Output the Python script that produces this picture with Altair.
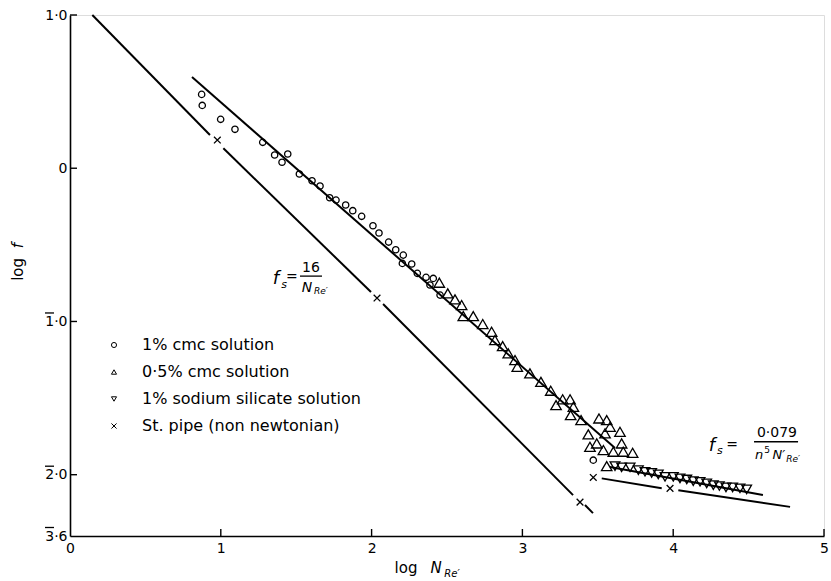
import altair as alt
import pandas as pd

# ---------------- data (log N_Re', log f) ----------------
cmc1_x = [0.873, 0.877, 0.999, 1.094, 1.278, 1.357, 1.406, 1.444, 1.521, 1.605, 1.658,
          1.722, 1.764, 1.828, 1.875, 1.934, 2.009, 2.049, 2.113, 2.160, 2.210, 2.204,
          2.266, 2.303, 2.361, 2.409, 2.387, 2.454, 3.470]
cmc1_y = [0.482, 0.410, 0.319, 0.254, 0.169, 0.086, 0.039, 0.093, -0.038, -0.082, -0.116,
          -0.193, -0.208, -0.240, -0.277, -0.314, -0.375, -0.423, -0.482, -0.532, -0.567, -0.621,
          -0.625, -0.686, -0.712, -0.719, -0.762, -0.828, -1.905]

cmc05_x = [2.449, 2.505, 2.553, 2.597, 2.608, 2.674, 2.737, 2.796, 2.818, 2.869, 2.906,
           2.951, 2.966, 3.050, 3.123, 3.188, 3.267, 3.316, 3.223, 3.338, 3.320, 3.389,
           3.508, 3.559, 3.581, 3.647, 3.437, 3.548, 3.493, 3.448, 3.537, 3.603, 3.658,
           3.669, 3.731, 3.559]
cmc05_y = [-0.747, -0.817, -0.856, -0.893, -0.965, -0.965, -1.017, -1.067, -1.121, -1.161, -1.208,
           -1.252, -1.296, -1.339, -1.394, -1.452, -1.508, -1.508, -1.546, -1.557, -1.611, -1.644,
           -1.633, -1.644, -1.687, -1.720, -1.737, -1.730, -1.796, -1.818, -1.839, -1.850, -1.796,
           -1.850, -1.857, -1.944]

silicate_x = [3.614, 3.658, 3.714, 3.769, 3.813, 3.857, 3.901, 3.946, 4.001, 4.045,
              4.090, 4.133, 4.178, 4.222, 4.266, 4.306, 4.350, 4.394, 4.443, 4.487]
silicate_y = [-1.944, -1.952, -1.952, -1.970, -1.981, -1.988, -1.998, -2.014, -2.014, -2.024,
              -2.031, -2.042, -2.046, -2.057, -2.068, -2.074, -2.083, -2.083, -2.089, -2.096]

pipe_x = [0.977, 2.036, 3.382, 3.470, 3.979]
pipe_y = [0.184, -0.847, -2.179, -2.018, -2.089]

# straight lines drawn on the chart (start / end points, broken at the x markers)
line_x1 = [0.148, 1.017, 2.076, 3.415, 0.809, 3.581, 3.526, 4.034]
line_y1 = [1.000, 0.130, -0.886, -2.198, 0.595, -1.950, -2.024, -2.101]
line_x2 = [0.928, 1.996, 3.336, 3.468, 3.614, 4.595, 3.924, 4.775]
line_y2 = [0.217, -0.808, -2.133, -2.251, -1.826, -2.133, -2.089, -2.210]

series_names = ["1% cmc solution", "0·5% cmc solution",
                "1% sodium silicate solution", "St. pipe  (non newtonian)"]

x_tick_values = [0, 1, 2, 3, 4, 5]
y_tick_values = [1.0, 0.0, -1.0, -2.0, -2.4]
y_tick_labels = ["1·0", "0", "1·0", "2·0", "3·6"]
y_tick_bar = [False, False, True, True, True]     # characteristic printed with a bar

# ---------------- tables ----------------
pts = pd.concat([
    pd.DataFrame({"x": cmc1_x, "y": cmc1_y, "s": series_names[0]}),
    pd.DataFrame({"x": cmc05_x, "y": cmc05_y, "s": series_names[1]}),
    pd.DataFrame({"x": silicate_x, "y": silicate_y, "s": series_names[2]}),
    pd.DataFrame({"x": pipe_x, "y": pipe_y, "s": series_names[3]}),
], ignore_index=True)

lines = pd.DataFrame({"x": line_x1, "y": line_y1, "x2": line_x2, "y2": line_y2})

# ---------------- layout / style (kept apart from the data) ----------------
PX_X = 5 / 754.0      # data units per pixel, x
PX_Y = 3.4 / 521.0    # data units per pixel, y
TICK_LEN = 7
ytick_df = pd.DataFrame({"y": y_tick_values[:-1], "x": 0.0, "x2": TICK_LEN * PX_X})
xtick_df = pd.DataFrame({"x": x_tick_values[1:], "y": -2.4, "y2": -2.4 + TICK_LEN * PX_Y})

bar_vals = [v for v, b in zip(y_tick_values, y_tick_bar) if b]
bar_df = pd.DataFrame({"y": [v + 8.5 * PX_Y for v in bar_vals],
                       "x": -25 * PX_X, "x2": -16 * PX_X})

frac_df = pd.DataFrame({"x": [1.525, 4.536], "x2": [1.671, 4.828], "y": [-0.704, -1.785]})

notes_plain = pd.DataFrame([
    {"t": "=", "x": 1.472, "y": -0.712, "sz": 14, "a": 0},
    {"t": "16", "x": 1.598, "y": -0.651, "sz": 14, "a": 0},
    {"t": "=", "x": 4.390, "y": -1.807, "sz": 14, "a": 0},
    {"t": "0·079", "x": 4.688, "y": -1.728, "sz": 14, "a": 0},
    {"t": "5", "x": 4.622, "y": -1.839, "sz": 9, "a": 0},
    {"t": "log", "x": 2.228, "y": -2.610, "sz": 15, "a": 0},
    {"t": "log", "x": -0.345, "y": -0.660, "sz": 15, "a": 270},
])
notes_italic = pd.DataFrame([
    {"t": "f", "x": 1.366, "y": -0.725, "sz": 18, "a": 0},
    {"t": "s", "x": 1.419, "y": -0.762, "sz": 11, "a": 0},
    {"t": "N", "x": 1.572, "y": -0.782, "sz": 14, "a": 0},
    {"t": "Re′", "x": 1.664, "y": -0.802, "sz": 9, "a": 0},
    {"t": "f", "x": 4.257, "y": -1.813, "sz": 18, "a": 0},
    {"t": "s", "x": 4.310, "y": -1.846, "sz": 11, "a": 0},
    {"t": "n", "x": 4.569, "y": -1.872, "sz": 13, "a": 0},
    {"t": "N′", "x": 4.700, "y": -1.872, "sz": 13, "a": 0},
    {"t": "Re′", "x": 4.795, "y": -1.898, "sz": 9, "a": 0},
    {"t": "N", "x": 2.427, "y": -2.610, "sz": 15, "a": 0},
    {"t": "Re′", "x": 2.533, "y": -2.645, "sz": 10, "a": 0},
    {"t": "f", "x": -0.345, "y": -0.505, "sz": 15, "a": 270},
])

# ---------------- scales / axes ----------------
XS = alt.Scale(domain=[0, 5], nice=False, zero=False)
YS = alt.Scale(domain=[-2.4, 1.0], nice=False, zero=False)
FONT = "DejaVu Sans"

label_expr = ""
for v, lab in zip(y_tick_values, y_tick_labels):
    label_expr += f"abs(datum.value - ({v})) < 1e-6 ? '{lab}' : "
label_expr += "''"

x_axis = alt.Axis(values=x_tick_values, format="d", ticks=False, grid=False, title=None,
                  domainColor="black", domainWidth=1.6, labelFontSize=14, labelPadding=5,
                  labelColor="black", labelFont=FONT, labelFlush=False, labelOverlap=False)
y_axis = alt.Axis(values=y_tick_values, labelExpr=label_expr, ticks=False, grid=False, title=None,
                  domainColor="black", domainWidth=1.6, labelFontSize=14, labelPadding=3,
                  labelColor="black", labelFont=FONT, labelFlush=False, labelOverlap=False)

X_ENC = alt.X("x:Q", scale=XS, axis=x_axis)
Y_ENC = alt.Y("y:Q", scale=YS, axis=y_axis)

cross_path = "M-1,-1L1,1M-1,1L1,-1"
shape_enc = alt.Shape(
    "s:N",
    scale=alt.Scale(domain=series_names,
                    range=["circle", "triangle-up", "triangle-down", cross_path]),
    legend=alt.Legend(orient="none", legendX=36, legendY=322, title=None,
                      labelFont=FONT, labelFontSize=16, labelColor="black", labelLimit=0,
                      symbolSize=26, symbolStrokeWidth=1, symbolStrokeColor="black",
                      symbolFillColor="white", rowPadding=11, labelOffset=20, padding=0),
)

marker_sizes = [40, 110, 95, 45]
point_layers = []
for name, sz in zip(series_names, marker_sizes):
    point_layers.append(
        alt.Chart(pts[pts["s"] == name]).mark_point(filled=False, strokeWidth=1.3, size=sz,
                                                     color="black", opacity=1).encode(
            x=X_ENC, y=Y_ENC, shape=shape_enc))

line_layer = alt.Chart(lines).mark_rule(color="black", strokeWidth=2).encode(
    x=X_ENC, y=Y_ENC, x2="x2:Q", y2="y2:Q")

ytick_layer = alt.Chart(ytick_df).mark_rule(color="black", strokeWidth=1.4).encode(
    x=X_ENC, x2="x2:Q", y=Y_ENC)
xtick_layer = alt.Chart(xtick_df).mark_rule(color="black", strokeWidth=1.4).encode(
    x=X_ENC, y=Y_ENC, y2="y2:Q")
bar_layer = alt.Chart(bar_df).mark_rule(color="black", strokeWidth=1.3).encode(
    x=X_ENC, x2="x2:Q", y=Y_ENC)

frac_layer = alt.Chart(frac_df).mark_rule(color="black", strokeWidth=1.3).encode(
    x=X_ENC, x2="x2:Q", y=Y_ENC)

plain_layer = alt.Chart(notes_plain).mark_text(font=FONT, color="black", baseline="middle",
                                               align="center").encode(
    x=X_ENC, y=Y_ENC, text="t:N",
    size=alt.Size("sz:Q", scale=None), angle=alt.Angle("a:Q", scale=None))
italic_layer = alt.Chart(notes_italic).mark_text(font=FONT, fontStyle="italic", color="black",
                                                 baseline="middle", align="center").encode(
    x=X_ENC, y=Y_ENC, text="t:N",
    size=alt.Size("sz:Q", scale=None), angle=alt.Angle("a:Q", scale=None))

chart = alt.layer(*point_layers, line_layer, ytick_layer, xtick_layer, bar_layer, frac_layer,
                  plain_layer, italic_layer).properties(
    width=754, height=521,
    autosize=alt.AutoSizeParams(type="none"),
    padding={"left": 70, "top": 15, "right": 7, "bottom": 45},
).configure_view(stroke=None).configure(background="white")

chart.save("out.html", embed_options={"renderer": "svg", "actions": False})
